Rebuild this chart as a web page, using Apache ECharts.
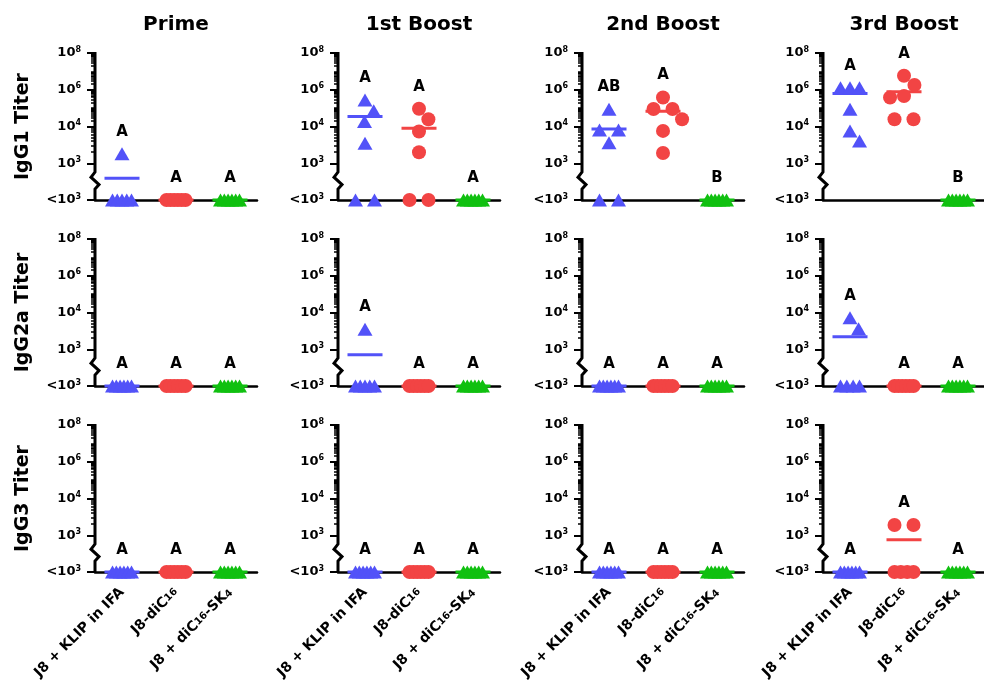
<!DOCTYPE html>
<html><head><meta charset="utf-8">
<script src="https://cdn.jsdelivr.net/npm/echarts@6/dist/echarts.min.js"></script>
<style>html,body{margin:0;padding:0;background:#fff}#c{width:984px;height:686px}</style>
</head><body><div id="c"></div>
<script>
const ND = 0; // below detection (<10^3)
const columnTitles = ['Prime', '1st Boost', '2nd Boost', '3rd Boost'];
const rowTitles = ['IgG1 Titer', 'IgG2a Titer', 'IgG3 Titer'];
const groupNames = ['J8 + KLIP in IFA', 'J8-diC16', 'J8 + diC16-SK4'];
const yTickBase = ['<10', '10', '10', '10', '10'];
const yTickExp = ['3', '3', '4', '6', '8'];
const yTickTiter = [ND, 1e3, 1e4, 1e6, 1e8];

// ---- IgG1 ----
const igg1Prime = [[1800, ND, ND, ND, ND, ND], [ND, ND, ND, ND, ND, ND], [ND, ND, ND, ND, ND, ND]];
const igg1PrimeMean = [390, ND, ND];
const igg1PrimeLetters = ['A', 'A', 'A'];
const igg1Boost1 = [[2.8e5, 7.1e4, 1.9e4, 3.5e3, ND, ND], [9.2e4, 2.5e4, 7.3e3, 2.0e3, ND, ND], [ND, ND, ND, ND, ND, ND]];
const igg1Boost1Mean = [3.5e4, 9.0e3, ND];
const igg1Boost1Letters = ['A', 'A', 'A'];
const igg1Boost2 = [[8.8e4, 8.0e3, 8.0e3, 3.6e3, ND, ND], [3.8e5, 9.0e4, 9.0e4, 2.5e4, 7.6e3, 1.9e3], [ND, ND, ND, ND, ND, ND]];
const igg1Boost2Mean = [8.5e3, 6.8e4, ND];
const igg1Boost2Letters = ['AB', 'A', 'B'];
const igg1Boost3 = [[1.3e6, 1.3e6, 1.3e6, 8.8e4, 7.6e3, 4.0e3], [5.8e6, 1.8e6, 4.5e5, 3.8e5, 2.5e4, 2.5e4], [ND, ND, ND, ND, ND, ND]];
const igg1Boost3Mean = [6.3e5, 7.8e5, ND];
const igg1Boost3Letters = ['A', 'A', 'B'];

// ---- IgG2a ----
const igg2aPrime = [[ND, ND, ND, ND, ND, ND], [ND, ND, ND, ND, ND, ND], [ND, ND, ND, ND, ND, ND]];
const igg2aPrimeMean = [ND, ND, ND];
const igg2aPrimeLetters = ['A', 'A', 'A'];
const igg2aBoost1 = [[3.5e3, ND, ND, ND, ND, ND], [ND, ND, ND, ND, ND, ND], [ND, ND, ND, ND, ND, ND]];
const igg2aBoost1Mean = [710, ND, ND];
const igg2aBoost1Letters = ['A', 'A', 'A'];
const igg2aBoost2 = [[ND, ND, ND, ND, ND, ND], [ND, ND, ND, ND, ND, ND], [ND, ND, ND, ND, ND, ND]];
const igg2aBoost2Mean = [ND, ND, ND];
const igg2aBoost2Letters = ['A', 'A', 'A'];
const igg2aBoost3 = [[7.2e3, 3.6e3, ND, ND, ND, ND], [ND, ND, ND, ND, ND, ND], [ND, ND, ND, ND, ND, ND]];
const igg2aBoost3Mean = [2.2e3, ND, ND];
const igg2aBoost3Letters = ['A', 'A', 'A'];

// ---- IgG3 ----
const igg3Prime = [[ND, ND, ND, ND, ND, ND], [ND, ND, ND, ND, ND, ND], [ND, ND, ND, ND, ND, ND]];
const igg3PrimeMean = [ND, ND, ND];
const igg3PrimeLetters = ['A', 'A', 'A'];
const igg3Boost1 = [[ND, ND, ND, ND, ND, ND], [ND, ND, ND, ND, ND, ND], [ND, ND, ND, ND, ND, ND]];
const igg3Boost1Mean = [ND, ND, ND];
const igg3Boost1Letters = ['A', 'A', 'A'];
const igg3Boost2 = [[ND, ND, ND, ND, ND, ND], [ND, ND, ND, ND, ND, ND], [ND, ND, ND, ND, ND, ND]];
const igg3Boost2Mean = [ND, ND, ND];
const igg3Boost2Letters = ['A', 'A', 'A'];
const igg3Boost3 = [[ND, ND, ND, ND, ND, ND], [1.9e3, 1.9e3, ND, ND, ND, ND], [ND, ND, ND, ND, ND, ND]];
const igg3Boost3Mean = [ND, 760, ND];
const igg3Boost3Letters = ['A', 'A', 'A'];

const panelValues = [
  [igg1Prime, igg1Boost1, igg1Boost2, igg1Boost3],
  [igg2aPrime, igg2aBoost1, igg2aBoost2, igg2aBoost3],
  [igg3Prime, igg3Boost1, igg3Boost2, igg3Boost3]
];
const panelMeans = [
  [igg1PrimeMean, igg1Boost1Mean, igg1Boost2Mean, igg1Boost3Mean],
  [igg2aPrimeMean, igg2aBoost1Mean, igg2aBoost2Mean, igg2aBoost3Mean],
  [igg3PrimeMean, igg3Boost1Mean, igg3Boost2Mean, igg3Boost3Mean]
];
const panelLetters = [
  [igg1PrimeLetters, igg1Boost1Letters, igg1Boost2Letters, igg1Boost3Letters],
  [igg2aPrimeLetters, igg2aBoost1Letters, igg2aBoost2Letters, igg2aBoost3Letters],
  [igg3PrimeLetters, igg3Boost1Letters, igg3Boost2Letters, igg3Boost3Letters]
];

// ---- layout & style ----
const COLORS = ['#5252f8', '#f24444', '#10c010'];
const SYMBOLS = ['triangle', 'circle', 'triangle'];
const SIZES = [[15, 13], 14, [15, 13]];
const GRID_LEFT = [95, 338, 582, 823];
const GRID_TOP = [53, 239, 425];
const GRID_W = 162, GRID_H = 147;
const PX_PER_T = GRID_H / 4;
const FONT = 'DejaVu Sans';
const MIN_DIST = 14, SPREAD = 19;

// piecewise log axis: <10^3 -> 0, 10^3 -> 1, 10^4 -> 2, 10^6 -> 3, 10^8 -> 4
function toT(v) {
  if (v <= 100) return 0;
  if (v <= 1e4) return Math.log10(v) - 2;
  return 2 + (Math.log10(v) - 4) / 2;
}
const yTickPos = yTickTiter.map(toT);
const minorTicks = [];
for (let d = 3; d <= 7; d++) for (let k = 1; k <= 9; k++) {
  const v = k * Math.pow(10, d);
  if (yTickTiter.indexOf(v) >= 0) continue;
  minorTicks.push(toT(v));
}

function swarm(ts) {
  const n = ts.length, dx = new Array(n).fill(null), py = ts.map(t => t * PX_PER_T);
  const buckets = new Map();
  ts.forEach((t, i) => { const key = t.toFixed(5); if (!buckets.has(key)) buckets.set(key, []); buckets.get(key).push(i); });
  buckets.forEach(idx => {
    if (idx.length > 1) { const m = idx.length, sp = SPREAD / (m - 1); idx.forEach((i, j) => { dx[i] = (j - (m - 1) / 2) * sp; }); }
  });
  const order = ts.map((t, i) => i).filter(i => dx[i] === null).sort((a, b) => ts[b] - ts[a]);
  let last = -1;
  order.forEach(i => {
    const iv = [];
    for (let j = 0; j < n; j++) {
      if (dx[j] === null) continue;
      const dy = Math.abs(py[i] - py[j]);
      if (dy < MIN_DIST) { const w = Math.sqrt(MIN_DIST * MIN_DIST - dy * dy); iv.push([dx[j] - w, dx[j] + w]); }
    }
    const cands = [0]; iv.forEach(([a, b]) => cands.push(a, b));
    const ok = cands.filter(c => iv.every(([a, b]) => c <= a + 1e-6 || c >= b - 1e-6));
    ok.sort((a, b) => (Math.abs(a) + (Math.sign(a) === last ? 0.01 : 0)) - (Math.abs(b) + (Math.sign(b) === last ? 0.01 : 0)));
    const c = ok[0];
    dx[i] = c;
    if (Math.abs(c) > 1e-6) last = Math.sign(c);
  });
  return dx;
}

const grids = [], xAxes = [], yAxes = [], series = [], graphics = [];
for (let r = 0; r < 3; r++) for (let c = 0; c < 4; c++) {
  const k = r * 4 + c;
  grids.push({ left: GRID_LEFT[c], top: GRID_TOP[r], width: GRID_W, height: GRID_H, outerBoundsMode: 'none', containLabel: false });
  xAxes.push({
    gridIndex: k, type: 'category', data: groupNames, boundaryGap: true,
    axisLine: { lineStyle: { color: '#000', width: 2.5 } },
    axisTick: { alignWithLabel: true, length: 5, lineStyle: { color: '#000', width: 2 } },
    splitLine: { show: false },
    axisLabel: r === 2 ? {
      show: true, interval: 0, rotate: 45, margin: 18, color: '#000', fontSize: 14, fontWeight: 'bold', fontFamily: FONT,
      formatter: s => s.replace('C16', 'C{s|16}').replace('K4', 'K{u|4}'),
      rich: {
        s: { fontSize: 10, fontWeight: 'bold', fontFamily: FONT, color: '#000', verticalAlign: 'middle' },
        u: { fontSize: 10, fontWeight: 'bold', fontFamily: FONT, color: '#000', verticalAlign: 'bottom' }
      }
    } : { show: false }
  });
  yAxes.push({
    gridIndex: k, type: 'value', min: 0, max: 4, position: 'left',
    axisLine: { show: false }, splitLine: { show: false },
    axisTick: { show: true, customValues: yTickPos, length: 8, lineStyle: { color: '#000', width: 2 } },
    axisLabel: {
      show: true, customValues: yTickPos, margin: 14, color: '#000',
      formatter: v => { const i = yTickPos.findIndex(p => Math.abs(p - v) < 1e-6); return i < 0 ? '' : '{b|' + yTickBase[i] + '}{s|' + yTickExp[i] + '}'; },
      rich: {
        b: { fontSize: 13, fontWeight: 'bold', fontFamily: FONT, color: '#000', lineHeight: 15 },
        s: { fontSize: 8, fontWeight: 'bold', fontFamily: FONT, color: '#000', verticalAlign: 'top', lineHeight: 10 }
      }
    },
    name: c === 0 ? rowTitles[r] : '', nameLocation: 'middle', nameGap: 62, nameRotate: 90,
    nameTextStyle: { fontSize: 19, fontWeight: 'bold', fontFamily: FONT, color: '#000' }
  });
  yAxes.push({
    gridIndex: k, type: 'value', min: 0, max: 4, position: 'left', offset: 0,
    axisLine: { show: false }, splitLine: { show: false }, axisLabel: { show: false },
    axisTick: { show: true, customValues: minorTicks, length: 4, lineStyle: { color: '#000', width: 1.5 } }
  });
  const yi = 2 * k;
  // axis line with break
  series.push({
    type: 'custom', xAxisIndex: k, yAxisIndex: yi, data: [[0, 0]], z: 1, silent: true, clip: false,
    renderItem: (params, api) => {
      const x0 = params.coordSys.x;
      const y = t => api.coord([0, t])[1];
      return {
        type: 'polyline',
        shape: { points: [[x0, y(4) - 1], [x0, y(0.76)], [x0 - 4, y(0.62)], [x0 + 4, y(0.42)], [x0, y(0.3)], [x0, y(0)]] },
        style: { stroke: '#000', lineWidth: 3, fill: null }
      };
    }
  });
  const vals = panelValues[r][c], means = panelMeans[r][c], letters = panelLetters[r][c];
  // mean lines
  series.push({
    type: 'scatter', xAxisIndex: k, yAxisIndex: yi, symbol: 'rect', symbolSize: [35, 3], z: 2, silent: true,
    data: means.map((m, g) => ({ value: [g, toT(m)], itemStyle: { color: COLORS[g], opacity: 1 } }))
  });
  for (let g = 0; g < 3; g++) {
    const ts = vals[g].map(toT);
    const off = swarm(ts);
    series.push({
      type: 'scatter', xAxisIndex: k, yAxisIndex: yi, symbol: SYMBOLS[g], symbolSize: SIZES[g], z: 3, silent: true,
      itemStyle: { color: COLORS[g], opacity: 1 },
      data: ts.map((t, i) => ({ value: [g, t], symbolOffset: [off[i], 0] }))
    });
  }
  // significance letters
  series.push({
    type: 'scatter', xAxisIndex: k, yAxisIndex: yi, symbolSize: 0, z: 4, silent: true,
    itemStyle: { color: '#000', opacity: 1 },
    label: { show: true, position: 'inside', offset: [0, -22], formatter: '{b}', color: '#000', opacity: 1, fontSize: 15, fontWeight: 'bold', fontFamily: FONT },
    data: letters.map((L, g) => ({ name: L, value: [g, Math.max.apply(null, vals[g].map(toT))] }))
  });
}
for (let c = 0; c < 4; c++) {
  graphics.push({
    type: 'text', x: GRID_LEFT[c] + GRID_W / 2, y: 25,
    style: { text: columnTitles[c], align: 'center', verticalAlign: 'middle', textAlign: 'center', textVerticalAlign: 'middle',
      fontSize: 20, fontWeight: 'bold', fontFamily: FONT, fill: '#000' }
  });
}

const chart = echarts.init(document.getElementById('c'), null, { renderer: 'canvas' });
chart.setOption({
  backgroundColor: '#fff', animation: false,
  textStyle: { fontFamily: FONT },
  grid: grids, xAxis: xAxes, yAxis: yAxes, series: series, graphic: graphics
});
</script></body></html>
